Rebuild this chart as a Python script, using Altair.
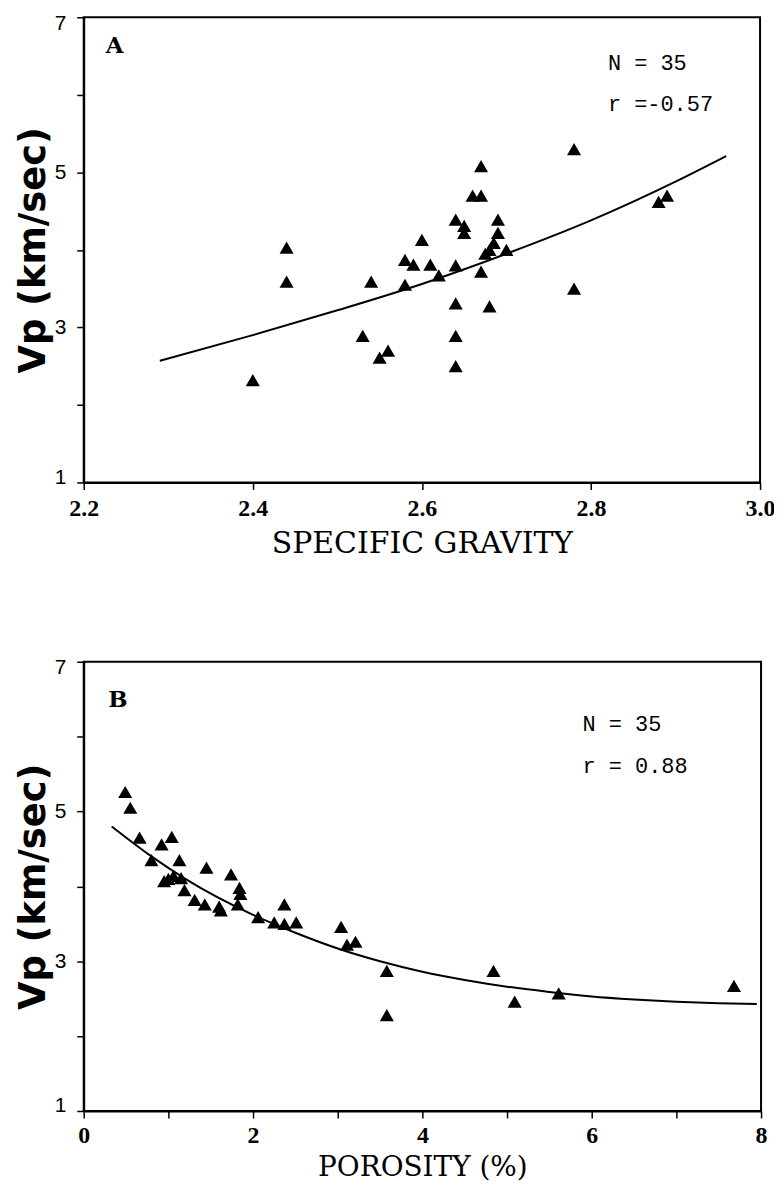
import altair as alt
import pandas as pd

# ---- Panel A: Vp vs specific gravity ----
sg = [2.40, 2.44, 2.44, 2.53, 2.54, 2.55, 2.56, 2.58, 2.58, 2.59, 2.60, 2.61,
      2.62, 2.64, 2.64, 2.64, 2.64, 2.64, 2.65, 2.65, 2.66, 2.67, 2.67, 2.67,
      2.68, 2.68, 2.685, 2.69, 2.69, 2.70, 2.78, 2.78, 2.88, 2.89, 2.675]
vp_a = [2.32, 4.03, 3.59, 2.89, 3.59, 2.61, 2.70, 3.87, 3.55, 3.81, 4.13, 3.81,
        3.67, 3.80, 3.31, 2.89, 2.50, 4.39, 4.31, 4.22, 4.70, 4.70, 5.08, 3.72,
        3.27, 4.00, 4.09, 4.22, 4.39, 4.00, 5.30, 3.50, 4.62, 4.70, 3.95]
fit_a_x = [2.29, 2.40, 2.50, 2.60, 2.70, 2.80, 2.90, 2.96]
fit_a_y = [2.57, 2.90, 3.22, 3.56, 3.95, 4.38, 4.88, 5.21]

# ---- Panel B: Vp vs porosity ----
por = [0.49, 0.55, 0.66, 0.92, 1.04, 0.80, 1.13, 1.45, 1.74, 0.95, 1.06, 1.15,
       1.19, 1.84, 1.85, 1.31, 1.43, 1.60, 1.62, 1.82, 2.37, 2.06, 2.25, 2.37,
       2.51, 3.04, 3.11, 3.21, 3.58, 3.58, 4.84, 5.09, 5.61, 7.68, 1.00]
vp_b = [5.26, 5.05, 4.65, 4.56, 4.66, 4.35, 4.35, 4.25, 4.16, 4.07, 4.14, 4.11,
        3.95, 3.98, 3.90, 3.82, 3.76, 3.73, 3.68, 3.76, 3.76, 3.59, 3.52, 3.50,
        3.52, 3.46, 3.22, 3.26, 2.87, 2.28, 2.87, 2.46, 2.57, 2.67, 4.10]
fit_b_x = [0.33, 0.80, 1.20, 2.00, 2.50, 3.00, 3.50, 4.00, 4.50, 5.00, 5.50,
           6.00, 6.50, 7.00, 7.50, 7.95]
fit_b_y = [4.80, 4.40, 4.10, 3.62, 3.38, 3.17, 3.00, 2.86, 2.75, 2.66, 2.59,
           2.53, 2.49, 2.46, 2.44, 2.43]

# annotations (data coordinates)
ann_a = {"letter": ("A", 2.226, 6.54), "n": ("N = 35", 2.82, 6.32), "r": ("r =-0.57", 2.82, 5.79)}
ann_b = {"letter": ("B", 0.29, 6.40), "n": ("N = 35", 5.89, 6.07), "r": ("r = 0.88", 5.89, 5.52)}

Y_TITLE = "Vp (km/sec)"


def panel(px, py, fx, fy, xtitle, xdom, xvals, label_expr, ann, w, h,
          title_size, title_pad, label_pad):
    pts = pd.DataFrame({"x": px, "y": py})
    fit = pd.DataFrame({"x": fx, "y": fy})
    xs = alt.Scale(domain=xdom, nice=False, zero=False)
    ys = alt.Scale(domain=[1, 7], nice=False, zero=False)
    xaxis = alt.Axis(title=xtitle, values=xvals, labelExpr=label_expr,
                     labelFont="Liberation Serif", labelFontSize=24, labelFontWeight="bold",
                     labelPadding=label_pad, titleFont="DejaVu Serif", titleFontSize=title_size,
                     titleFontWeight="normal", titlePadding=title_pad, labelFlush=False)
    yaxis = alt.Axis(title=Y_TITLE, values=[1, 2, 3, 4, 5, 6, 7],
                     labelExpr="datum.value % 2 == 1 ? datum.label : ''",
                     labelFont="Liberation Sans", labelFontSize=21, labelPadding=11,
                     titleFont="DejaVu Sans", titleFontSize=37, titleFontWeight="bold",
                     titlePadding=2, labelFlush=True, labelFlushOffset=5)
    X = alt.X("x:Q", scale=xs, axis=xaxis)
    Y = alt.Y("y:Q", scale=ys, axis=yaxis)
    scatter = alt.Chart(pts).mark_point(
        shape="triangle-up", filled=True, color="black", size=200, opacity=1
    ).encode(x=X, y=Y)
    line = alt.Chart(fit).mark_line(color="black", strokeWidth=2, interpolate="monotone").encode(x=X, y=Y)
    letter_df = pd.DataFrame([{"t": ann["letter"][0], "x": ann["letter"][1], "y": ann["letter"][2]}])
    stats_df = pd.DataFrame([
        {"t": ann["n"][0], "x": ann["n"][1], "y": ann["n"][2]},
        {"t": ann["r"][0], "x": ann["r"][1], "y": ann["r"][2]},
    ])
    letter = alt.Chart(letter_df).mark_text(
        align="left", baseline="alphabetic", font="DejaVu Serif", fontSize=23,
        fontWeight="bold", color="black"
    ).encode(x=X, y=Y, text="t:N")
    stats = alt.Chart(stats_df).mark_text(
        align="left", baseline="alphabetic", font="Liberation Mono", fontSize=22,
        color="black"
    ).encode(x=X, y=Y, text="t:N")
    return alt.layer(scatter, line, letter, stats).properties(width=w, height=h)


pa = panel(sg, vp_a, fit_a_x, fit_a_y, "SPECIFIC GRAVITY", [2.2, 3.0],
           [2.2, 2.4, 2.6, 2.8, 3.0], "format(datum.value, '.1f')", ann_a, 679, 467,
           30, 8, 7)
pb = panel(por, vp_b, fit_b_x, fit_b_y, "POROSITY (%)", [0, 8],
           [0, 1, 2, 3, 4, 5, 6, 7, 8], "datum.value % 2 == 0 ? datum.label : ''", ann_b, 680, 451,
           28, 6, 6)

chart = alt.vconcat(pa, pb, spacing=97).properties(
    padding={"left": 5, "top": 1, "right": -2, "bottom": 0}
).configure_axis(
    grid=False, domainColor="black", domainWidth=2, tickColor="black", tickWidth=1.5,
    tickSize=7, labelColor="black", titleColor="black"
).configure_view(stroke="black", strokeWidth=2)

chart.save("out.html", embed_options={"renderer": "svg", "actions": False})
